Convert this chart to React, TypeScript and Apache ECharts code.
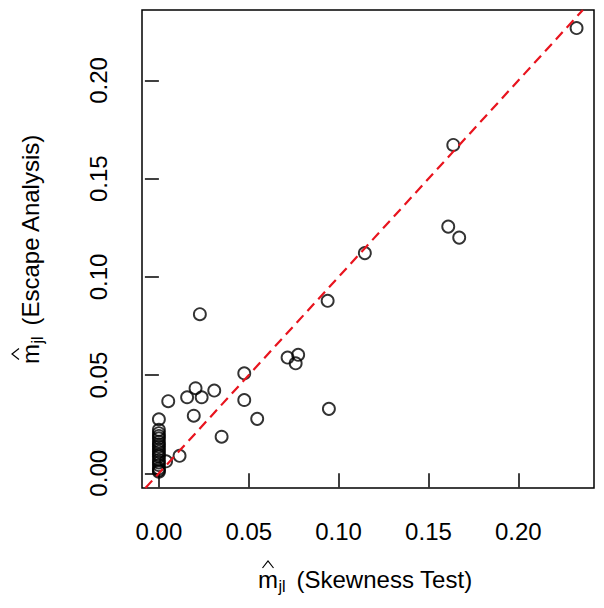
import React, { useEffect, useRef } from "react";
import * as echarts from "echarts";

const skewnessTest: number[] = [
  0.2324, 0.1638, 0.161, 0.1671, 0.1146, 0.0939, 0.0716, 0.0775, 0.0761, 0.0946,
  0.0547, 0.0475, 0.0475, 0.0228, 0.0204, 0.0157, 0.0238, 0.0308, 0.0052, 0.0194,
  0.0349, 0.0115, 0.004,
  0, 0, 0, 0, 0, 0, 0, 0, 0, 0, 0, 0, 0, 0, 0, 0, 0, 0,
];
const escapeAnalysis: number[] = [
  0.2267, 0.1672, 0.1256, 0.12, 0.1121, 0.0878, 0.0589, 0.0603, 0.056, 0.0328,
  0.0277, 0.0509, 0.0373, 0.081, 0.0433, 0.0387, 0.0387, 0.0421, 0.0367, 0.0293,
  0.0186, 0.0089, 0.0061,
  0.0275, 0.0221, 0.0204, 0.019, 0.0178, 0.0161, 0.0148, 0.0136, 0.0122, 0.011,
  0.0095, 0.0085, 0.0068, 0.0055, 0.0042, 0.0025, 0.0015, 0.0008,
];
const xTicks: number[] = [0, 0.05, 0.1, 0.15, 0.2];
const yTicks: number[] = [0, 0.05, 0.1, 0.15, 0.2];
const xRange: [number, number] = [-0.0094, 0.2421];
const yRange: [number, number] = [-0.0075, 0.2359];

const FONT = "'Liberation Sans', Arial, Helvetica, sans-serif";

function titleParts(label: string) {
  return [
    { type: "text", x: 0, y: 0, style: { text: "m", fontSize: 24, fontFamily: FONT, fill: "#000", align: "left", verticalAlign: "middle" } },
    { type: "polyline", shape: { points: [[4.5, -11], [10, -18], [15.5, -11]] }, style: { stroke: "#000", lineWidth: 1.2, fill: null } },
    { type: "text", x: 20.5, y: 7, style: { text: "jl", fontSize: 16, fontFamily: FONT, fill: "#000", align: "left", verticalAlign: "middle" } },
    { type: "text", x: 38.5, y: 0, style: { text: label, fontSize: 24, fontFamily: FONT, fill: "#000", align: "left", verticalAlign: "middle" } },
  ];
}

export default function App() {
  const ref = useRef<HTMLDivElement>(null);
  useEffect(() => {
    if (!ref.current) return;
    const chart = echarts.init(ref.current, null, { renderer: "svg" });
    const points = skewnessTest.map((x, i) => [x, escapeAnalysis[i]]);
    const lo = Math.max(xRange[0], yRange[0]);
    const hi = Math.min(xRange[1], yRange[1]);
    chart.setOption({
      animation: false,
      backgroundColor: "#fff",
      grid: {
        left: 142, top: 10, width: 452, height: 478,
        show: true, borderColor: "#000", borderWidth: 1.5, backgroundColor: "transparent",
      },
      xAxis: {
        type: "value", min: xRange[0], max: xRange[1],
        axisLine: { show: false }, splitLine: { show: false },
        axisTick: { show: true, customValues: xTicks, length: 14, inside: false, lineStyle: { color: "#000", width: 1.5 } },
        axisLabel: {
          customValues: xTicks, formatter: (v: number) => v.toFixed(2),
          fontSize: 24, fontFamily: FONT, color: "#000", margin: 31,
        },
      },
      yAxis: {
        type: "value", min: yRange[0], max: yRange[1],
        axisLine: { show: false }, splitLine: { show: false },
        axisTick: { show: true, customValues: yTicks, length: 14, inside: false, lineStyle: { color: "#000", width: 1.5 } },
        axisLabel: {
          customValues: yTicks, formatter: (v: number) => v.toFixed(2), rotate: 90,
          fontSize: 24, fontFamily: FONT, color: "#000", margin: 32,
        },
      },
      series: [
        {
          type: "scatter", data: points, symbol: "circle", symbolSize: 12,
          itemStyle: { color: "rgba(0,0,0,0)", borderColor: "#000", borderWidth: 1.9 },
          z: 2,
        },
        {
          type: "line", data: [[lo, lo], [hi, hi]], symbol: "none", clip: true,
          lineStyle: { color: "#e8141e", width: 2.2, type: [10, 6] }, z: 3,
        },
      ],
      graphic: [
        { type: "group", x: 258, y: 579, children: titleParts("(Skewness Test)") },
        { type: "group", x: 30, y: 364, rotation: Math.PI / 2, children: titleParts("(Escape Analysis)") },
      ],
    });
    return () => chart.dispose();
  }, []);
  return <div ref={ref} style={{ position: "fixed", left: 0, top: 0, width: 604, height: 608 }} />;
}
